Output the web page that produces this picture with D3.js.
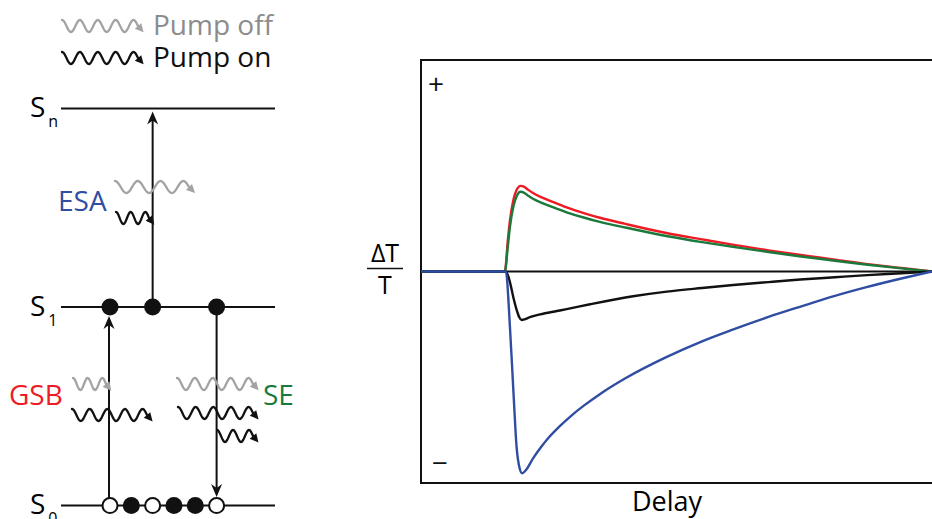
<!DOCTYPE html>
<html>
<head>
<meta charset="utf-8">
<script src="https://cdn.jsdelivr.net/npm/d3@7"></script>
<style>
  html, body { margin: 0; padding: 0; background: #fff; }
  svg { display: block; font-family: "Open Sans", sans-serif; }
</style>
</head>
<body>
<svg id="chart" width="932" height="519"></svg>
<script>
// Pump-probe signal components as [delay, ΔT/T] pairs (arbitrary units)
const gsbSignal = [[0,0],[16.4,0],[17.0,0.15],[17.4,0.24],[18.1,0.34],[18.7,0.385],[19.5,0.405],[20.2,0.4],[21,0.386],[22,0.37],[23.5,0.352],[25.5,0.332],[28.5,0.303],[32,0.275],[35,0.254],[40,0.225],[48,0.182],[55,0.152],[61,0.127],[68,0.1],[74,0.079],[81,0.056],[87,0.036],[94,0.017],[100,0]];
const seSignal  = [[0,0],[16.4,0],[17.0,0.12],[17.4,0.21],[18.1,0.31],[18.7,0.355],[19.5,0.377],[20.2,0.372],[21,0.358],[22,0.343],[23.5,0.326],[25.5,0.307],[28.5,0.28],[32,0.254],[35,0.235],[40,0.208],[48,0.168],[55,0.139],[61,0.117],[68,0.092],[74,0.072],[81,0.051],[87,0.033],[94,0.015],[100,0]];
const esaSignal = [[0,0],[16.6,0],[17.4,-0.26],[18.1,-0.574],[18.7,-0.828],[19.3,-0.93],[19.8,-0.954],[20.5,-0.94],[21.9,-0.885],[23.5,-0.83],[25,-0.785],[27,-0.735],[29.5,-0.68],[32,-0.632],[35,-0.58],[40,-0.505],[48,-0.405],[55,-0.33],[61,-0.275],[68,-0.215],[74,-0.168],[81,-0.115],[87,-0.075],[94,-0.033],[100,0]];
const netSignal = [[0,0],[16.6,0],[17.4,-0.05],[18.1,-0.125],[18.7,-0.18],[19.2,-0.215],[19.7,-0.229],[20.3,-0.226],[21.3,-0.216],[23.3,-0.203],[26.6,-0.187],[28.5,-0.178],[33.1,-0.155],[41.5,-0.117],[48.1,-0.095],[55,-0.078],[61.1,-0.064],[68,-0.05],[74.2,-0.038],[81,-0.027],[87.3,-0.017],[94,-0.008],[100,0]];

// Energy levels (index = energy step) and their subscripts
const levelSubs = ["0", "1", "n"];
// Population slots: true = filled electron, false = hole
const s0Slots = [false, true, false, true, true, false];
const s1Slots = [0, 2, 5];

const svg = d3.select("#chart");
const RED = "#ed1c24", GREEN = "#1a7a3c", BLUE = "#2f4da2", GRAY = "#a3a3a3";

// ---------- transient plot ----------
const x = d3.scaleLinear().domain([0, 100]).range([421, 932]);
const y = d3.scaleLinear().domain([-1, 1]).range([483, 60]);

svg.append("rect")
  .attr("x", x(0)).attr("y", y(1))
  .attr("width", 940 - x(0)).attr("height", y(-1) - y(1))
  .attr("fill", "none").attr("stroke", "#111").attr("stroke-width", 2);

svg.append("line")
  .attr("x1", x(0)).attr("x2", x(100))
  .attr("y1", y(0)).attr("y2", y(0))
  .attr("stroke", "#111").attr("stroke-width", 2);

const line = d3.line().x(d => x(d[0])).y(d => y(d[1])).curve(d3.curveMonotoneX);
[[gsbSignal, RED], [seSignal, GREEN], [netSignal, "#111"], [esaSignal, BLUE]].forEach(([data, col]) => {
  svg.append("path").attr("d", line(data))
    .attr("fill", "none").attr("stroke", col).attr("stroke-width", 2.4)
    .attr("stroke-linejoin", "round");
});

svg.append("text").attr("x", 436).attr("y", 94).attr("text-anchor", "middle")
  .attr("font-size", 28).attr("fill", "#111").text("+");
svg.append("text").attr("x", 440).attr("y", 473).attr("text-anchor", "middle")
  .attr("font-size", 28).attr("fill", "#111").text("−");

svg.append("text").attr("x", 667).attr("y", 511).attr("text-anchor", "middle")
  .attr("font-size", 27).text("Delay");

// ΔT / T axis label
svg.append("text").attr("x", 385).attr("y", 262).attr("text-anchor", "middle")
  .attr("font-size", 25).text("ΔT");
svg.append("line").attr("x1", 367).attr("x2", 403).attr("y1", 268.5).attr("y2", 268.5)
  .attr("stroke", "#111").attr("stroke-width", 1.6);
svg.append("text").attr("x", 385).attr("y", 294).attr("text-anchor", "middle")
  .attr("font-size", 25).text("T");

// ---------- energy level diagram ----------
const lvl = d3.scaleLinear().domain([0, 2]).range([505.6, 108.5]);
const slot = d3.scaleLinear().domain([0, 5]).range([110, 216.6]);
const R = 8;

levelSubs.forEach((s, i) => {
  svg.append("line").attr("x1", 61).attr("x2", 275)
    .attr("y1", lvl(i)).attr("y2", lvl(i))
    .attr("stroke", "#111").attr("stroke-width", 2);
  const t = svg.append("text").attr("x", 30).attr("y", lvl(i) + 8.5).attr("font-size", 28);
  t.append("tspan").text("S");
  t.append("tspan").attr("font-size", 16).attr("dx", 3).attr("dy", 10).text(s);
});

// straight transition arrows with notched heads
function arrowHead(tx, ty, dir) {
  // dir: -1 pointing up, +1 pointing down
  const L = 13, W = 5.5, N = 4;
  const p = [[tx, ty], [tx - W, ty - dir * L], [tx, ty - dir * (L - N)], [tx + W, ty - dir * L]];
  svg.append("path").attr("d", "M" + p.map(q => q.join(",")).join("L") + "Z").attr("fill", "#111");
}
function vArrow(xp, yFrom, yTip) {
  const dir = yTip > yFrom ? 1 : -1;
  svg.append("line").attr("x1", xp).attr("x2", xp).attr("y1", yFrom).attr("y2", yTip - dir * 6)
    .attr("stroke", "#111").attr("stroke-width", 2);
  arrowHead(xp, yTip, dir);
}
vArrow(slot(0) - 1, lvl(0), lvl(1) + R + 1);        // GSB: S0 -> S1
vArrow(slot(2), lvl(1), lvl(2) + 3);                // ESA: S1 -> Sn
vArrow(slot(5), lvl(1), lvl(0) - R - 0.5);          // SE:  S1 -> S0

// populations
s0Slots.forEach((filled, i) => {
  svg.append("circle").attr("cx", slot(i)).attr("cy", lvl(0)).attr("r", filled ? R + 0.5 : R - 0.5)
    .attr("fill", filled ? "#111" : "#fff").attr("stroke", "#111").attr("stroke-width", filled ? 0 : 2);
});
s1Slots.forEach(i => {
  svg.append("circle").attr("cx", slot(i)).attr("cy", lvl(1)).attr("r", R + 0.5).attr("fill", "#111");
});

// wavy photon arrows
function wave(x0, x1, yc, col, period = 18, amp = 6) {
  const len = x1 - x0 - 6;
  const n = Math.max(1, Math.round(len / period - 0.25)) + 0.25;
  const P = len / n;
  const pts = d3.range(0, len + 0.01, 0.5).map(d => [x0 + d, yc - amp * Math.cos(2 * Math.PI * d / P)]);
  svg.append("path").attr("d", d3.line()(pts)).attr("fill", "none")
    .attr("stroke", col).attr("stroke-width", 2.3).attr("stroke-linecap", "round");
  const ex = x0 + len, ey = yc;
  const a = Math.atan2(amp * 2 * Math.PI / P, 1) * 0.75;
  const L = 8.5, W = 4.3;
  const tip = [ex + L * Math.cos(a), ey + L * Math.sin(a)];
  const b1 = [ex - W * Math.sin(a), ey + W * Math.cos(a)];
  const b2 = [ex + W * Math.sin(a), ey - W * Math.cos(a)];
  svg.append("path").attr("d", `M${tip}L${b1}L${b2}Z`).attr("fill", col);
}

// legend
wave(62, 144, 26, GRAY);
wave(62, 144, 58, "#111");
svg.append("text").attr("x", 153).attr("y", 35).attr("font-size", 28).attr("fill", "#8c8c8c").text("Pump off");
svg.append("text").attr("x", 153).attr("y", 67).attr("font-size", 28).attr("fill", "#111").text("Pump on");

// ESA probe
wave(115, 195, 187, GRAY, 20);
wave(116, 155, 218, "#111", 18);
svg.append("text").attr("x", 58).attr("y", 211).attr("font-size", 28).attr("fill", BLUE).text("ESA");

// GSB probe
wave(73, 112, 384, GRAY, 17);
wave(72, 153, 415, "#111", 17);
svg.append("text").attr("x", 9).attr("y", 405).attr("font-size", 28).attr("fill", RED).text("GSB");

// SE probe
wave(177, 259, 384, GRAY, 18);
wave(178, 259, 413, "#111", 18);
wave(217, 259, 436, "#111", 18);
svg.append("text").attr("x", 263).attr("y", 405).attr("font-size", 28).attr("fill", GREEN).text("SE");
</script>
</body>
</html>
